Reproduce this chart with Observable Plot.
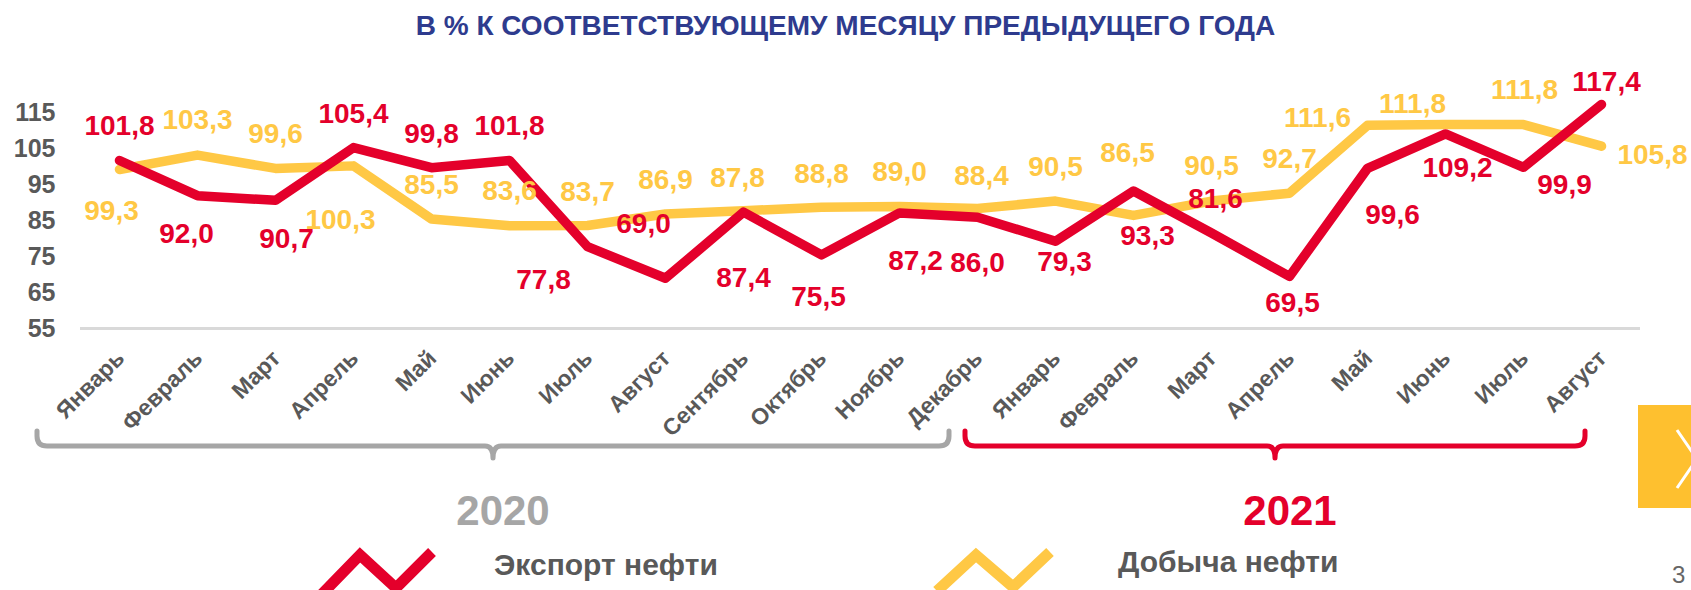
<!DOCTYPE html>
<html>
<head>
<meta charset="utf-8">
<script src="https://cdn.jsdelivr.net/npm/d3@7"></script>
<script src="https://cdn.jsdelivr.net/npm/@observablehq/plot@0.6"></script>
<style>
  html, body { margin: 0; padding: 0; background: #fff; }
  body { width: 1691px; height: 590px; overflow: hidden; font-family: "Liberation Sans", Arial, sans-serif; }
  #title { height: 50px; line-height: 52px; text-align: center; font-weight: bold; font-size: 28px; color: #2E3B8E; white-space: nowrap; }
  #chart svg { display: block; }
</style>
</head>
<body>
<div id="title">В % К СООТВЕТСТВУЮЩЕМУ МЕСЯЦУ ПРЕДЫДУЩЕГО ГОДА</div>
<div id="chart"></div>
<script>
// ---------- data ----------
const months = ["Январь","Февраль","Март","Апрель","Май","Июнь","Июль","Август","Сентябрь","Октябрь","Ноябрь","Декабрь",
                "Январь","Февраль","Март","Апрель","Май","Июнь","Июль","Август"];
const monthYear = ["2020","2020","2020","2020","2020","2020","2020","2020","2020","2020","2020","2020",
                   "2021","2021","2021","2021","2021","2021","2021","2021"];
const exportValues = [101.8, 92.0, 90.7, 105.4, 99.8, 101.8, 77.8, 69.0, 87.4, 75.5, 87.2, 86.0,
                      79.3, 93.3, 81.6, 69.5, 99.6, 109.2, 99.9, 117.4];
const productionValues = [99.3, 103.3, 99.6, 100.3, 85.5, 83.6, 83.7, 86.9, 87.8, 88.8, 89.0, 88.4,
                          90.5, 86.5, 90.5, 92.7, 111.6, 111.8, 111.8, 105.8];
const yTicks = [55, 65, 75, 85, 95, 105, 115];
const years = ["2020", "2021"];
const seriesNames = ["Экспорт нефти", "Добыча нефти"];

// ---------- layout (label offsets in px, relative to each point) ----------
const exportLabelDx = [0,-11,11,0,0,0,-44,-22,0,-3,16,0,9,14,4,3,25,12,41,5];
const exportLabelDy = [-34,38,39,-34,-34,-34,33,-54,66,42,48,46,21,45,-34,27,47,34,18,-22];
const productionLabelDx = [-8,0,0,-13,0,0,0,0,-6,0,0,4,0,-6,0,0,-50,-33,1,51];
const productionLabelDy = [42,-35,-34,54,-34,-35,-33,-34,-33,-33,-34,-33,-34,-62,-35,-34,-7,-21,-35,9];

const RED = "#e4002b", YELLOW = "#ffc845", GRAY = "#595959", BRACKET_GRAY = "#a6a6a6";
const FONT = '"Liberation Sans", Arial, sans-serif';
const fmt = v => v.toFixed(1).replace(".", ",");

const rows = months.map((m, i) => ({i, month: m, year: monthYear[i], exp: exportValues[i], prod: productionValues[i]}));
const idx = rows.map(d => d.i);

const labelMarks = [];
rows.forEach((d, i) => {
  labelMarks.push(Plot.text([d], {x: "i", y: "prod", text: r => fmt(r.prod), dx: productionLabelDx[i], dy: productionLabelDy[i],
    fill: YELLOW, fontSize: 28, fontWeight: "bold", lineAnchor: "middle", textAnchor: "middle"}));
});
rows.forEach((d, i) => {
  labelMarks.push(Plot.text([d], {x: "i", y: "exp", text: r => fmt(r.exp), dx: exportLabelDx[i], dy: exportLabelDy[i],
    fill: RED, fontSize: 28, fontWeight: "bold", lineAnchor: "middle", textAnchor: "middle"}));
});

const W = 1691, H = 540;
const chart = Plot.plot({
  width: W, height: H,
  marginLeft: 80, marginRight: 51, marginTop: 62.6, marginBottom: 262,
  style: {fontFamily: FONT, background: "transparent", overflow: "visible"},
  x: {type: "point", domain: idx, padding: 0.5, axis: null},
  y: {domain: [55, 115], axis: null},
  marks: [
    Plot.ruleY([55], {stroke: "#d9d9d9", strokeWidth: 3}),
    Plot.text(yTicks, {y: d => d, text: d => String(d), frameAnchor: "left", textAnchor: "end", lineAnchor: "middle",
      dx: -25, fontSize: 25, fontWeight: "bold", fill: GRAY}),
    Plot.text(rows, {x: "i", text: "month", frameAnchor: "bottom", rotate: -45, textAnchor: "end", lineAnchor: "middle",
      dx: 1, dy: 26, fontSize: 23, fontWeight: "bold", fill: GRAY}),
    Plot.line(rows, {x: "i", y: "prod", stroke: YELLOW, strokeWidth: 9.5, strokeLinecap: "round", strokeLinejoin: "round"}),
    Plot.line(rows, {x: "i", y: "exp", stroke: RED, strokeWidth: 9.5, strokeLinecap: "round", strokeLinejoin: "round"}),
    ...labelMarks
  ]
});
document.getElementById("chart").appendChild(chart);

// ---------- brackets, year labels, legend, decorations ----------
const xs = chart.scale("x");
const svg = d3.select(chart);
const OFF = 50; // svg top in page coords

const periods = years.map(y => {
  const ii = rows.filter(r => r.year === y).map(r => r.i);
  return {year: y, first: d3.min(ii), last: d3.max(ii)};
});
const bracketStyle = {
  "2020": {color: BRACKET_GRAY, left: -82, right: -28, labelShift: 10},
  "2021": {color: RED, left: -90, right: -16, labelShift: 15}
};
const hookTop = 431 - OFF, lineY = 446 - OFF, tipY = 458 - OFF, r = 10;
periods.forEach(p => {
  const st = bracketStyle[p.year];
  const x0 = xs.apply(p.first) + st.left, x1 = xs.apply(p.last) + st.right, xc = (x0 + x1) / 2;
  const path = `M${x0},${hookTop} L${x0},${lineY - r} Q${x0},${lineY} ${x0 + r},${lineY} L${xc - 8},${lineY} Q${xc},${lineY} ${xc},${tipY} Q${xc},${lineY} ${xc + 8},${lineY} L${x1 - r},${lineY} Q${x1},${lineY} ${x1},${lineY - r} L${x1},${hookTop}`;
  svg.append("path").attr("d", path).attr("fill", "none").attr("stroke", st.color).attr("stroke-width", 5).attr("stroke-linecap", "round").attr("stroke-linejoin", "round");
  svg.append("text").attr("x", xc + st.labelShift).attr("y", 525 - OFF).attr("text-anchor", "middle")
    .attr("font-family", FONT).attr("font-size", 42).attr("font-weight", "bold").attr("fill", st.color).text(p.year);
});

// legend
const legend = [
  {name: seriesNames[0], color: RED, pts: [[322, 594], [360, 555], [396, 588], [432, 552]], tx: 494, ty: 575},
  {name: seriesNames[1], color: YELLOW, pts: [[937, 591], [976, 555], [1013, 587], [1050, 552]], tx: 1118, ty: 572}
];
legend.forEach(l => {
  svg.append("polyline").attr("points", l.pts.map(p => [p[0], p[1] - OFF].join(",")).join(" "))
    .attr("fill", "none").attr("stroke", l.color).attr("stroke-width", 11).attr("stroke-linejoin", "miter").attr("stroke-linecap", "butt");
  svg.append("text").attr("x", l.tx).attr("y", l.ty - OFF).attr("text-anchor", "start").attr("font-family", FONT).attr("font-size", 30)
    .attr("font-weight", "bold").attr("fill", GRAY).text(l.name);
});

// navigation button & page number (decoration at right edge)
svg.append("rect").attr("x", 1638).attr("y", 405 - OFF).attr("width", 60).attr("height", 103).attr("fill", "#fec02f");
svg.append("polyline").attr("points", `1677,${430 - OFF} 1697,${459 - OFF} 1677,${488 - OFF}`)
  .attr("fill", "none").attr("stroke", "#fff").attr("stroke-width", 3);
svg.append("text").attr("x", 1672).attr("y", 583 - OFF).attr("text-anchor", "start").attr("font-family", FONT).attr("font-size", 24).attr("fill", "#666").text("3");
</script>
</body>
</html>
